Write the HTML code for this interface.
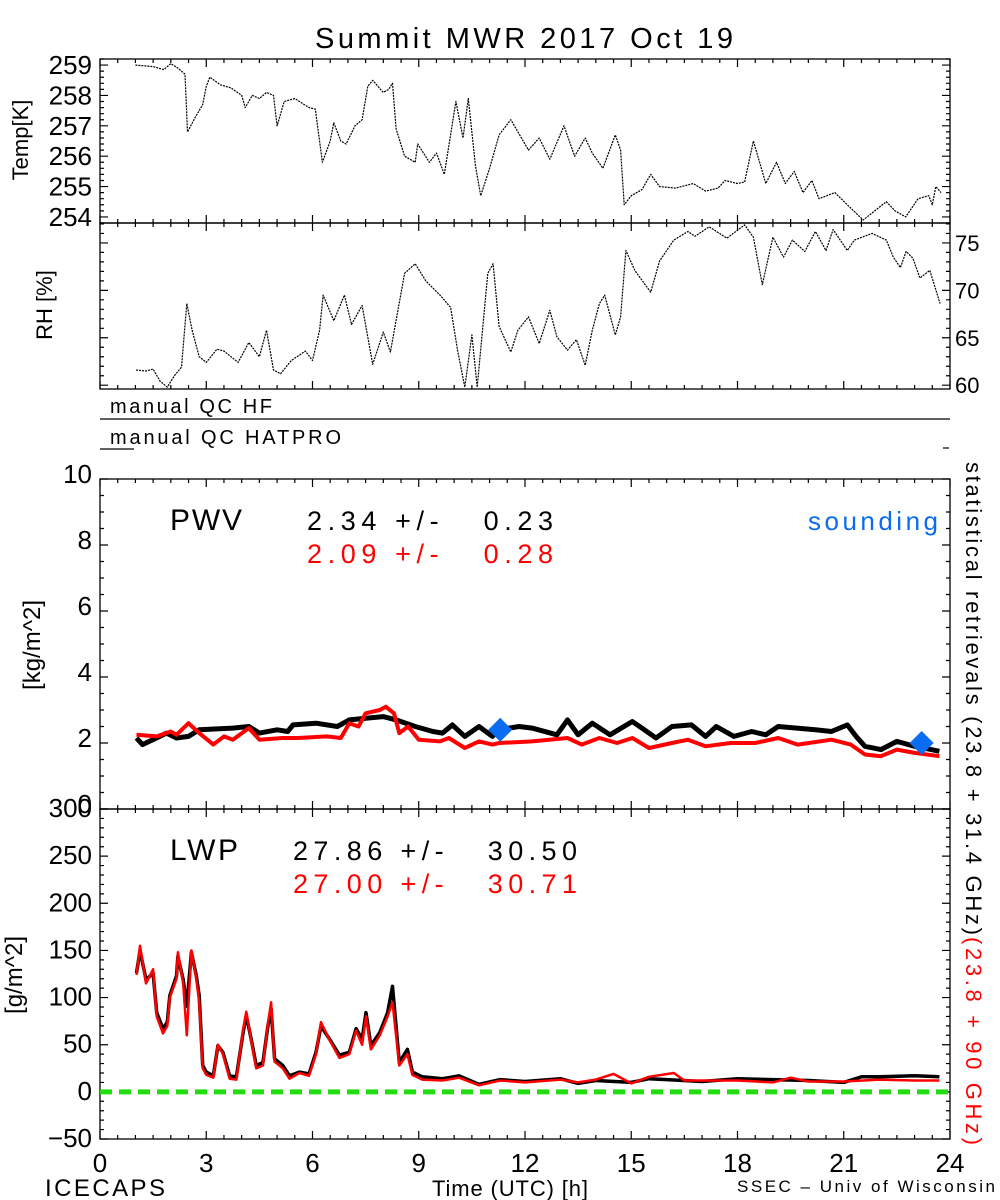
<!DOCTYPE html>
<html><head><meta charset="utf-8">
<style>
html,body{margin:0;padding:0;background:#fff;}
svg{display:block;font-family:"Liberation Sans","DejaVu Sans",sans-serif;}
</style></head>
<body>
<svg id="chart" width="1000" height="1200" viewBox="0 0 1000 1200" xmlns="http://www.w3.org/2000/svg">
<text x="315" y="48" font-size="29" textLength="418" lengthAdjust="spacing">Summit MWR 2017 Oct 19</text>
<g id="g"></g>
<text transform="translate(28,140) rotate(-90)" font-size="22" text-anchor="middle">Temp[K]</text>
<text transform="translate(52,305) rotate(-90)" font-size="22" text-anchor="middle">RH [%]</text>
<text transform="translate(40,645) rotate(-90)" font-size="24" text-anchor="middle">[kg/m^2]</text>
<text transform="translate(22,975) rotate(-90)" font-size="24" text-anchor="middle">[g/m^2]</text>
<text x="110" y="413" font-size="20" textLength="162" lengthAdjust="spacing">manual QC HF</text>
<line x1="100" y1="419" x2="950" y2="419" stroke="#000" stroke-width="1.2"/>
<text x="110" y="444" font-size="20" textLength="231" lengthAdjust="spacing">manual QC HATPRO</text>
<line x1="100" y1="449" x2="134" y2="449" stroke="#000" stroke-width="1.2"/>
<line x1="943" y1="448" x2="949" y2="448" stroke="#000" stroke-width="1.2"/>
<text x="170" y="530" font-size="30" textLength="72" lengthAdjust="spacing">PWV</text>
<text x="307" y="530" font-size="27" xml:space="preserve" textLength="246" lengthAdjust="spacing">2.34 +/-   0.23</text>
<text x="307" y="563" font-size="27" fill="#ff0000" xml:space="preserve" textLength="246" lengthAdjust="spacing">2.09 +/-   0.28</text>
<text x="808" y="530" font-size="26" fill="#0a6cf0" textLength="130" lengthAdjust="spacing">sounding</text>
<text x="170" y="860" font-size="30" textLength="68" lengthAdjust="spacing">LWP</text>
<text x="293" y="860" font-size="27" xml:space="preserve" textLength="284" lengthAdjust="spacing">27.86 +/-   30.50</text>
<text x="293" y="893" font-size="27" fill="#ff0000" xml:space="preserve" textLength="284" lengthAdjust="spacing">27.00 +/-   30.71</text>
<text transform="translate(966,462) rotate(90)" font-size="22" textLength="473" lengthAdjust="spacing">statistical retrievals (23.8 + 31.4 GHz)</text>
<text transform="translate(966,937) rotate(90)" font-size="22" fill="#ff0000" textLength="208" lengthAdjust="spacing">(23.8 + 90 GHz)</text>
<text x="45" y="1196" font-size="24" textLength="120" lengthAdjust="spacing">ICECAPS</text>
<text x="432" y="1196" font-size="22" textLength="156" lengthAdjust="spacing">Time (UTC) [h]</text>
<text x="737" y="1192" font-size="17" textLength="258" lengthAdjust="spacing">SSEC – Univ of Wisconsin</text>
</svg>
<script>
const xTicks = [0,3,6,9,12,15,18,21,24];
const tempTicks = [254,255,256,257,258,259];
const rhTicks = [60,65,70,75];
const pwvTicks = [0,2,4,6,8,10];
const lwpTicks = [-50,0,50,100,150,200,250,300];

const tempH = [1.0,1.5,1.8,2.0,2.2,2.4,2.47,2.7,2.9,3.0,3.1,3.4,3.7,4.0,4.1,4.3,4.5,4.7,4.9,5.0,5.2,5.5,5.9,6.08,6.28,6.5,6.6,6.8,6.95,7.2,7.4,7.56,7.7,8.0,8.15,8.26,8.36,8.6,8.9,8.97,9.3,9.5,9.72,10.05,10.25,10.4,10.6,10.75,11.0,11.27,11.6,12.1,12.4,12.7,13.1,13.4,13.7,13.9,14.2,14.55,14.7,14.8,15.0,15.3,15.55,15.8,16.25,16.75,17.1,17.45,17.65,18.0,18.2,18.45,18.8,19.1,19.35,19.6,19.85,20.1,20.3,20.75,21.1,21.55,22.2,22.45,22.75,23.1,23.4,23.5,23.6,23.75];
const tempV = [259.0,258.95,258.85,259.05,258.9,258.7,256.8,257.3,257.7,258.3,258.6,258.35,258.25,258.0,257.6,258.0,257.9,258.1,258.0,257.0,257.8,257.9,257.6,257.55,255.8,256.5,257.1,256.5,256.4,257.0,257.2,258.3,258.5,258.1,258.2,258.4,256.9,256.0,255.8,256.4,255.8,256.1,255.4,257.8,256.6,257.9,255.7,254.7,255.6,256.7,257.2,256.2,256.6,255.9,257.0,256.0,256.6,256.1,255.6,256.7,256.2,254.4,254.7,254.9,255.4,255.0,254.95,255.1,254.85,254.95,255.2,255.1,255.15,256.5,255.1,255.8,255.1,255.5,254.8,255.2,254.6,254.8,254.4,253.9,254.5,254.2,254.0,254.6,254.7,254.4,255.0,254.8];

const rhH = [1.02,1.3,1.5,1.7,1.9,2.1,2.3,2.45,2.6,2.8,3.0,3.3,3.5,3.9,4.2,4.5,4.7,4.9,5.1,5.4,5.8,6.0,6.2,6.3,6.6,6.9,7.1,7.4,7.7,8.0,8.2,8.6,8.9,9.2,9.6,9.9,10.1,10.3,10.5,10.65,10.95,11.1,11.27,11.6,11.8,12.1,12.4,12.7,12.9,13.2,13.45,13.7,13.9,14.1,14.25,14.55,14.7,14.85,15.1,15.55,15.8,16.2,16.6,16.8,17.2,17.7,18.2,18.45,18.7,19.0,19.3,19.55,19.9,20.2,20.5,20.7,21.1,21.3,21.8,22.2,22.4,22.6,22.76,22.95,23.15,23.43,23.72];
const rhV = [61.6,61.5,61.7,60.4,59.8,61.0,61.9,68.6,65.8,63.0,62.4,63.8,63.6,62.4,64.5,63.0,65.8,61.6,61.2,62.6,63.6,62.6,65.8,69.5,66.8,69.5,66.4,68.4,62.2,65.6,63.5,71.8,72.8,71.0,69.5,68.2,63.6,59.8,65.3,59.8,71.8,72.8,66.2,63.5,65.8,67.2,64.4,67.9,65.1,63.7,64.8,62.1,65.8,68.6,69.5,65.3,67.2,74.2,72.1,69.8,73.1,75.3,76.2,75.7,76.7,75.5,76.9,75.6,70.6,75.6,73.5,75.3,74.1,76.2,74.2,76.4,74.2,75.3,76.0,75.3,73.5,72.4,74.1,73.4,71.3,72.1,68.6];

const pwvBH = [1.03,1.2,1.88,2.16,2.5,2.8,3.75,4.2,4.5,5.0,5.3,5.45,6.1,6.7,7.04,7.5,8.0,8.36,8.9,9.4,9.67,9.95,10.3,10.7,11.08,11.27,11.83,12.2,12.9,13.2,13.5,13.9,14.4,15.03,15.3,15.7,16.15,16.7,17.1,17.4,17.9,18.4,18.8,19.15,20.2,20.65,21.1,21.35,21.6,22.05,22.5,23.0,23.47,23.7];
const pwvBV = [2.15,1.95,2.3,2.15,2.2,2.4,2.45,2.5,2.3,2.4,2.35,2.55,2.6,2.5,2.7,2.75,2.8,2.7,2.5,2.35,2.3,2.55,2.2,2.5,2.2,2.4,2.5,2.45,2.25,2.7,2.25,2.6,2.25,2.65,2.45,2.15,2.5,2.55,2.2,2.5,2.2,2.35,2.25,2.5,2.4,2.35,2.55,2.2,1.9,1.8,2.05,1.9,1.8,1.75];
const pwvRH = [1.03,1.6,2.0,2.16,2.5,2.8,3.2,3.5,3.75,4.2,4.5,5.15,5.6,6.4,6.8,7.04,7.3,7.5,7.9,8.07,8.3,8.45,8.7,9.0,9.6,9.85,10.3,10.7,11.08,11.27,12.2,13.2,13.6,14.1,14.6,15.03,15.5,16.15,16.6,17.1,17.8,18.5,19.15,19.7,20.65,21.2,21.6,22.05,22.5,23.0,23.7];
const pwvRV = [2.25,2.2,2.35,2.25,2.6,2.3,1.95,2.2,2.1,2.45,2.1,2.15,2.15,2.2,2.15,2.6,2.5,2.9,3.0,3.1,2.9,2.3,2.5,2.1,2.05,2.15,1.85,2.05,1.95,2.0,2.05,2.15,1.95,2.15,2.0,2.15,1.85,2.0,2.1,1.9,2.0,2.0,2.15,1.95,2.1,1.95,1.65,1.6,1.8,1.7,1.6];
const sondeH = [11.3,23.2];
const sondeV = [2.4,2.0];

const lwpBH = [1.03,1.13,1.3,1.5,1.6,1.78,1.9,1.97,2.16,2.2,2.35,2.45,2.58,2.72,2.8,2.9,3.0,3.2,3.33,3.47,3.66,3.85,4.04,4.13,4.27,4.41,4.6,4.74,4.83,4.93,5.16,5.35,5.63,5.9,6.1,6.24,6.48,6.76,7.04,7.23,7.4,7.51,7.65,7.9,8.12,8.26,8.45,8.68,8.82,9.1,9.67,10.14,10.7,11.3,12,13,13.5,14,15,15.5,16,17,18,19,20,21,21.5,22,23,23.7];
const lwpBV = [126,150,119,126,84,67,74,102,123,144,119,91,148,123,102,28,21,17,49,42,17,16,63,81,56,28,31,70,88,35,28,17,21,19,42,70,56,39,42,67,56,84,49,63,84,112,31,45,21,16,14,17,8,13,11,14,9,12,10,14,13,11,14,13,12,10,16,16,17,16];
const lwpRH = [1.03,1.13,1.3,1.5,1.6,1.78,1.9,1.97,2.16,2.2,2.35,2.45,2.58,2.72,2.8,2.9,3.0,3.2,3.33,3.47,3.66,3.85,4.04,4.13,4.27,4.41,4.6,4.74,4.83,4.93,5.16,5.35,5.63,5.9,6.1,6.24,6.48,6.76,7.04,7.23,7.4,7.51,7.65,7.9,8.12,8.26,8.45,8.68,8.82,9.1,9.67,10.14,10.7,11.3,12,13,13.5,14,14.5,15,15.5,16.2,16.5,17,18,19,19.5,20,21,22,23,23.7];
const lwpRV = [124,155,115,130,80,62,70,100,120,148,115,60,150,120,95,25,18,15,50,40,14,13,66,85,55,25,28,72,95,32,25,14,20,17,40,74,55,36,40,65,50,80,45,60,80,95,28,40,18,13,12,15,7,12,10,13,10,13,19,9,16,20,12,12,12,10,15,11,11,13,12,12];

const NS='http://www.w3.org/2000/svg';
const G=document.getElementById('g');
const XL=100, XR=950;
function X(h){return XL+(h/24)*(XR-XL);}
function mk(tag,attrs,parent){const e=document.createElementNS(NS,tag);for(const k in attrs)e.setAttribute(k,attrs[k]);(parent||G).appendChild(e);return e;}
function scaleY(top,bot,vmin,vmax){return v=>bot-(v-vmin)/(vmax-vmin)*(bot-top);}

const P={
 temp:{top:59,bot:223,min:253.8,max:259.2,minor:0.2,ticks:tempTicks,side:'left'},
 rh:{top:223,bot:389,min:59.6,max:77.1,minor:1,ticks:rhTicks,side:'right'},
 pwv:{top:479,bot:809,min:0,max:10,minor:0.5,ticks:pwvTicks,side:'left'},
 lwp:{top:809,bot:1139,min:-50,max:300,minor:10,ticks:lwpTicks,side:'left'}
};
for(const k in P){const p=P[k];p.y=scaleY(p.top,p.bot,p.min,p.max);}

function frame(name,p,labelSize,labelOffset){
  const r=mk('rect',{x:XL,y:p.top,width:XR-XL,height:p.bot-p.top,fill:'none',stroke:'#000','stroke-width':1.3});
  
  
  let d='';
  for(let h=0;h<=24;h+=0.5){
    const x=X(h), L=(h%3===0)?8:4;
    d+=`M${x},${p.bot}v${-L}M${x},${p.top}v${L}`;
  }
  const start=Math.ceil(p.min/p.minor-1e-6);
  for(let i=start;i*p.minor<=p.max+1e-6;i++){
    const v=i*p.minor, y=p.y(v);
    const major=p.ticks.some(t=>Math.abs(t-v)<1e-6), L=major?8:4;
    d+=`M${XL},${y}h${L}M${XR},${y}h${-L}`;
  }
  const t=mk('path',{d:d,stroke:'#000','stroke-width':1.2,fill:'none'});
  
  
  p.ticks.forEach(v=>{
    const left=p.side==='left';
    const tx=mk('text',{x:left?92:955,y:p.y(v)+labelOffset,'font-size':labelSize,'text-anchor':left?'end':'start'});
    tx.textContent=String(v).replace('-','\u2212');
    
    
  });
}
frame('temp',P.temp,26,9);
frame('rh',P.rh,22,8);
frame('pwv',P.pwv,26,4);
frame('lwp',P.lwp,26,8);

xTicks.forEach(h=>{
  const t=mk('text',{x:X(h),y:1172,'font-size':26,'text-anchor':'middle'});
  t.textContent=h;
  
  
});

function line(name,hs,vs,p,color,w,dash){
  const pts=hs.map((h,i)=>X(h).toFixed(1)+','+p.y(Math.max(p.min,Math.min(p.max,vs[i]))).toFixed(1)).join(' ');
  const a={points:pts,fill:'none',stroke:color,'stroke-width':w,'stroke-linejoin':'round'};
  if(dash)a['stroke-dasharray']=dash;
  const e=mk('polyline',a);
  
  
}
line('temp-series',tempH,tempV,P.temp,'#000',1.2,'2 1');
line('rh-series',rhH,rhV,P.rh,'#000',1.2,'2 1');

const zl=mk('line',{x1:XL,x2:XR,y1:P.lwp.y(0),y2:P.lwp.y(0),stroke:'#22dd11','stroke-width':5,'stroke-dasharray':'12 7'});



line('pwv-black-series',pwvBH,pwvBV,P.pwv,'#000',5);
line('pwv-red-series',pwvRH,pwvRV,P.pwv,'#ff0000',4);
line('lwp-black-series',lwpBH,lwpBV,P.lwp,'#000',3.5);
line('lwp-red-series',lwpRH,lwpRV,P.lwp,'#ff0000',2.5);

sondeH.forEach((h,i)=>{
  const cx=X(h), cy=P.pwv.y(sondeV[i]), s=12;
  const d=mk('polygon',{points:`${cx},${cy-s} ${cx+s},${cy} ${cx},${cy+s} ${cx-s},${cy}`,fill:'#0a6cf0'});
  
  
});
</script>
</body></html>
